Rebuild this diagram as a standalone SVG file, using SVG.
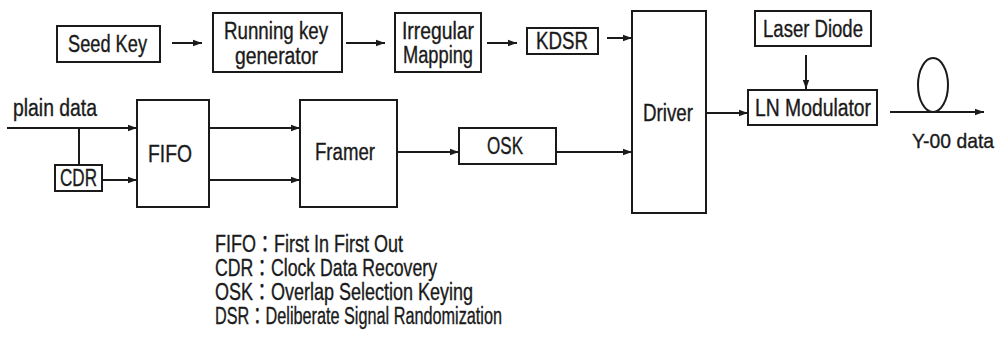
<svg xmlns="http://www.w3.org/2000/svg" width="1007" height="339" viewBox="0 0 1007 339">
<style>
.box{fill:#fff;stroke:#1a1a1a;stroke-width:2}
.ln{fill:none;stroke:#1a1a1a;stroke-width:2}
.arr{marker-end:url(#ah)}
text{font-family:"Liberation Sans","Noto Sans CJK JP",sans-serif;font-size:23px;fill:#1a1a1a;stroke:#1a1a1a;stroke-width:0.35}
</style>
<defs>
<marker id="ah" markerUnits="userSpaceOnUse" markerWidth="9" markerHeight="8" refX="9" refY="4" orient="auto">
<path d="M0,0.8 L9,4 L0,7.2 z" fill="#1a1a1a"/>
</marker>
</defs>
<rect width="1007" height="339" fill="#fff"/>
<g id="connectors">
<line class="ln arr" x1="172" y1="43" x2="202" y2="43"/>
<line class="ln arr" x1="346" y1="43" x2="385" y2="43"/>
<line class="ln arr" x1="487" y1="43" x2="517" y2="43"/>
<line class="ln arr" x1="607" y1="38" x2="632" y2="38"/>
<line class="ln arr" x1="806" y1="55" x2="806" y2="89"/>
<line class="ln arr" x1="706" y1="113" x2="748" y2="113"/>
<line class="ln arr" x1="890" y1="112" x2="984" y2="112"/>
<ellipse class="ln" cx="933" cy="85" rx="15" ry="27"/>
<line class="ln arr" x1="7" y1="128" x2="137" y2="128"/>
<line class="ln" x1="79" y1="128" x2="79" y2="165"/>
<line class="ln arr" x1="102" y1="180" x2="137" y2="180"/>
<line class="ln arr" x1="209" y1="128" x2="300" y2="128"/>
<line class="ln arr" x1="209" y1="180" x2="300" y2="180"/>
<line class="ln arr" x1="397" y1="152" x2="459" y2="152"/>
<line class="ln arr" x1="556" y1="152" x2="632" y2="152"/>
</g>
<g id="seed-key"><rect class="box" x="57" y="26" width="103" height="36"/><text x="68" y="52" textLength="79" lengthAdjust="spacingAndGlyphs">Seed Key</text></g>
<g id="running-key"><rect class="box" x="213" y="13" width="129" height="59"/><text x="224" y="39" textLength="104" lengthAdjust="spacingAndGlyphs">Running key</text><text x="235" y="64" textLength="83" lengthAdjust="spacingAndGlyphs">generator</text></g>
<g id="irregular-mapping"><rect class="box" x="395" y="13" width="86" height="59"/><text x="402" y="39" textLength="72" lengthAdjust="spacingAndGlyphs">Irregular</text><text x="403" y="63" textLength="70" lengthAdjust="spacingAndGlyphs">Mapping</text></g>
<g id="kdsr"><rect class="box" x="527" y="28" width="71" height="26"/><text x="536" y="49" textLength="52" lengthAdjust="spacingAndGlyphs">KDSR</text></g>
<g id="driver"><rect class="box" x="632" y="11" width="74" height="202"/><text x="643" y="121" textLength="50" lengthAdjust="spacingAndGlyphs">Driver</text></g>
<g id="laser-diode"><rect class="box" x="755" y="11" width="116" height="35"/><text x="763" y="37" textLength="100" lengthAdjust="spacingAndGlyphs">Laser Diode</text></g>
<g id="ln-modulator"><rect class="box" x="748" y="90" width="129" height="35"/><text x="755" y="116" textLength="116" lengthAdjust="spacingAndGlyphs">LN Modulator</text></g>
<g id="fifo"><rect class="box" x="137" y="100" width="72" height="107"/><text x="148" y="162" textLength="44" lengthAdjust="spacingAndGlyphs">FIFO</text></g>
<g id="cdr"><rect class="box" x="55" y="165" width="47" height="26"/><text x="60" y="186" textLength="37" lengthAdjust="spacingAndGlyphs">CDR</text></g>
<g id="framer"><rect class="box" x="300" y="100" width="97" height="107"/><text x="315" y="160" textLength="60" lengthAdjust="spacingAndGlyphs">Framer</text></g>
<g id="osk"><rect class="box" x="459" y="128" width="97" height="36"/><text x="487" y="154" textLength="36" lengthAdjust="spacingAndGlyphs">OSK</text></g>
<g id="labels">
<text x="13" y="116" textLength="84" lengthAdjust="spacingAndGlyphs">plain data</text>
<text x="912" y="148" style="font-size:21px" textLength="82" lengthAdjust="spacingAndGlyphs">Y-00 data</text>
</g>
<g id="legend">
<text x="215" y="252" textLength="188" lengthAdjust="spacingAndGlyphs">FIFO：First In First Out</text>
<text x="215" y="276" textLength="222" lengthAdjust="spacingAndGlyphs">CDR：Clock Data Recovery</text>
<text x="215" y="300" textLength="258" lengthAdjust="spacingAndGlyphs">OSK：Overlap Selection Keying</text>
<text x="215" y="324" textLength="287" lengthAdjust="spacingAndGlyphs">DSR：Deliberate Signal Randomization</text>
</g>
</svg>
